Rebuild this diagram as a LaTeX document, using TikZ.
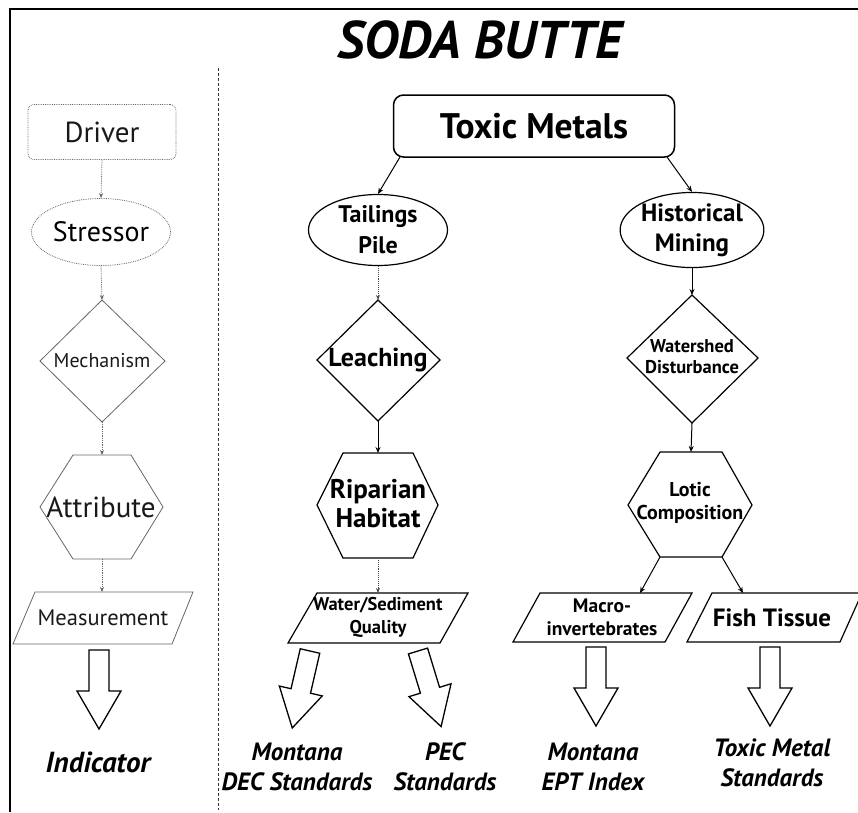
\documentclass[tikz,border=0pt]{standalone}
\usepackage{fontspec}
\setmainfont{PT Sans}
\usetikzlibrary{arrows.meta,shapes.geometric}
\begin{document}
\begin{tikzpicture}[x=1pt,y=-1pt,
  lshape/.style={draw=black!60,line width=0.8pt},
  rshape/.style={draw=black,line width=1.2pt},
  ltext/.style={inner sep=0pt,align=center,text=black!90},
  rtext/.style={inner sep=0pt,align=center,font=\bfseries},
  lconn/.style={draw=black!60,densely dotted,line width=0.8pt,-{Stealth[length=5pt,width=4pt]}},
  rconn/.style={draw=black,line width=1pt,-{Stealth[length=6pt,width=5pt]}},
  dconn/.style={draw=black!70,densely dotted,line width=0.9pt,-{Stealth[length=5pt,width=4pt]}},
  indtext/.style={inner sep=0pt,align=center,font=\bfseries\itshape\fontsize{25}{30}\selectfont},
  bigarrow/.pic={\draw[line width=1.3pt,fill=white] (-10,0) -- (-10,41) -- (-22,41) -- (0,79) -- (22,41) -- (10,41) -- (10,0) -- cycle;}
]
\useasboundingbox (0,0) rectangle (858,812);
% frame
\draw[line width=2.5pt] (10,812) -- (10,9) -- (858,9);
% separator
\draw[densely dashed,line width=0.8pt,black!80] (218,68) -- (218,810);
% title
\node[inner sep=0pt,font=\bfseries\itshape\fontsize{53}{53}\selectfont] (title) at (480,40) {SODA BUTTE};

% ---------- left legend column ----------
\node[lshape,densely dotted,rounded corners=6pt,minimum width=148pt,minimum height=55pt,ltext,font=\fontsize{29}{30}\selectfont] (driver) at (102,132) {Driver};
\node[lshape,densely dotted,ellipse,minimum width=139pt,minimum height=67pt,inner sep=0pt,font=\fontsize{28}{30}\selectfont] (stressor) at (101,232) {Stressor};
\coordinate (mech-n) at (102,300); \coordinate (mech-s) at (102,422);
\draw[lshape] (mech-n) -- (165,361) -- (mech-s) -- (40,361) -- cycle;
\node[ltext,font=\fontsize{20}{22}\selectfont] (mech) at (102,361) {Mechanism};
\coordinate (attr-n) at (102,455); \coordinate (attr-s) at (102,559);
\draw[lshape] (73,455) -- (131,455) -- (163,507) -- (131,559) -- (73,559) -- (40,507) -- cycle;
\node[ltext,font=\fontsize{29}{30}\selectfont] (attr) at (101,507) {Attribute};
\coordinate (meas-n) at (102,592); \coordinate (meas-s) at (100,644);
\draw[lshape] (35,592) -- (193,592) -- (172,644) -- (13,644) -- cycle;
\node[ltext,font=\fontsize{22.5}{24}\selectfont] (meas) at (103,618) {Measurement};
\pic at (99,650) {bigarrow};
\node[indtext,font=\bfseries\itshape\fontsize{29}{30}\selectfont] (indicator) at (98,762) {Indicator};

\draw[lconn] (driver.south) -- (stressor.north);
\draw[lconn] (stressor.south) -- (mech-n);
\draw[lconn] (mech-s) -- (attr-n);
\draw[lconn] (attr-s) -- (meas-n);

% ---------- Soda Butte model ----------
\node[rshape,line width=1.5pt,rounded corners=10pt,minimum width=281pt,minimum height=62pt,rtext,font=\bfseries\fontsize{35.5}{37}\selectfont] (toxic) at (534,126) {Toxic Metals};
\coordinate (toxic-sw) at (400,157); \coordinate (toxic-se) at (667,157);

\node[rshape,ellipse,minimum width=139pt,minimum height=71pt,inner sep=0pt,align=center,font=\bfseries\fontsize{24}{31}\selectfont] (tail) at (378,230) {Tailings\\Pile};
\node[rshape,ellipse,minimum width=140pt,minimum height=70pt,inner sep=0pt,align=center,font=\bfseries\fontsize{25}{30}\selectfont] (hist) at (692,230) {Historical\\Mining};

% Leaching diamond
\coordinate (leach-n) at (378,300); \coordinate (leach-s) at (378,421);
\draw[rshape] (leach-n) -- (440,360) -- (leach-s) -- (317,360) -- cycle;
\node[rtext,font=\bfseries\fontsize{26}{28}\selectfont] (leach) at (378,360) {Leaching};
% Watershed diamond
\coordinate (wat-n) at (692,295); \coordinate (wat-s) at (692,423);
\draw[rshape] (wat-n) -- (758,358) -- (wat-s) -- (627,358) -- cycle;
\node[rtext,font=\bfseries\fontsize{18.5}{21}\selectfont] (wat) at (692,357) {Watershed\\Disturbance};

% Riparian hexagon
\coordinate (rip-n) at (378,453); \coordinate (rip-s) at (378,558);
\draw[rshape] (343,453) -- (413,453) -- (438,505) -- (413,558) -- (343,558) -- (317,505) -- cycle;
\node[rtext,font=\bfseries\fontsize{27}{29}\selectfont] (rip) at (378,504) {Riparian\\Habitat};
% Lotic hexagon
\coordinate (lot-n) at (691,452); \coordinate (lot-sw) at (660,557); \coordinate (lot-se) at (722,557);
\draw[rshape] (660,452) -- (722,452) -- (752,505) -- (722,557) -- (660,557) -- (628,505) -- cycle;
\node[rtext,font=\bfseries\fontsize{20}{23}\selectfont] (lot) at (690,503) {Lotic\\Composition};

% parallelograms
\coordinate (ws-n) at (378,593);
\draw[rshape] (317,593) -- (468,593) -- (440,643) -- (288,643) -- cycle;
\node[rtext,font=\bfseries\fontsize{18.5}{23}\selectfont] (ws) at (378,617) {Water/Sediment\\Quality};
\coordinate (mac-n) at (640,593);
\draw[rshape] (540,593) -- (692,593) -- (665,642) -- (513,642) -- cycle;
\node[rtext,font=\bfseries\fontsize{19.5}{23}\selectfont] (mac) at (602,617) {Macro-\\invertebrates};
\coordinate (fish-n) at (743,593);
\draw[rshape] (712,593) -- (862,593) -- (840,642) -- (687,642) -- cycle;
\node[rtext,font=\bfseries\fontsize{25}{26}\selectfont] (fish) at (772,618) {Fish Tissue};

% connectors
\draw[rconn] (toxic-sw) -- (tail.north);
\draw[rconn] (toxic-se) -- (hist.north);
\draw[dconn] (tail.south) -- (leach-n);
\draw[rconn] (leach-s) -- (rip-n);
\draw[dconn] (rip-s) -- (ws-n);
\draw[rconn] (hist.south) -- (wat-n);
\draw[rconn] (wat-s) -- (lot-n);
\draw[rconn] (lot-sw) -- (mac-n);
\draw[rconn] (lot-se) -- (fish-n);

% big hollow arrows
\pic[rotate=-13] at (310,651) {bigarrow};
\pic[rotate=17] at (418,651) {bigarrow};
\pic at (596,647) {bigarrow};
\pic at (770,647) {bigarrow};

% indicators
\node[indtext] (dec) at (297,767) {Montana\\DEC Standards};
\node[indtext] (pec) at (445,767) {PEC\\Standards};
\node[indtext] (ept) at (593,767) {Montana\\EPT Index};
\node[indtext] (tms) at (772,763) {Toxic Metal\\Standards};
\end{tikzpicture}
\end{document}
